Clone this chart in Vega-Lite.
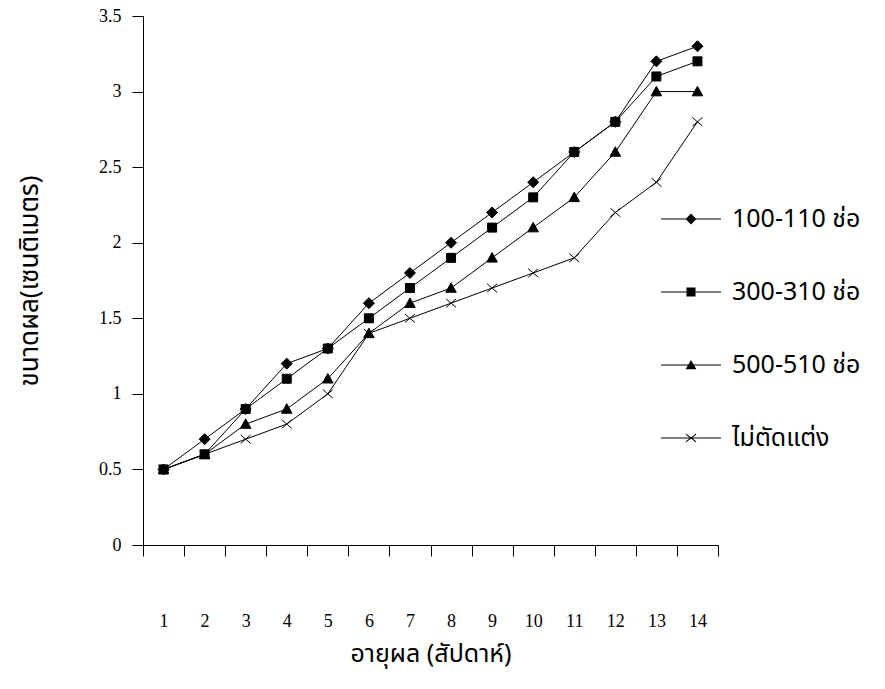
{
  "$schema": "https://vega.github.io/schema/vega-lite/v6.json",
  "width": 575,
  "height": 529,
  "autosize": {"type": "none"},
  "padding": {"left": 143, "top": 16, "right": 167, "bottom": 144},
  "background": "white",
  "config": {"view": {"stroke": null}},
  "data": {
    "values": [
      {"week": 1, "series": "100-110 ช่อ", "value": 0.5},
      {"week": 2, "series": "100-110 ช่อ", "value": 0.7},
      {"week": 3, "series": "100-110 ช่อ", "value": 0.9},
      {"week": 4, "series": "100-110 ช่อ", "value": 1.2},
      {"week": 5, "series": "100-110 ช่อ", "value": 1.3},
      {"week": 6, "series": "100-110 ช่อ", "value": 1.6},
      {"week": 7, "series": "100-110 ช่อ", "value": 1.8},
      {"week": 8, "series": "100-110 ช่อ", "value": 2.0},
      {"week": 9, "series": "100-110 ช่อ", "value": 2.2},
      {"week": 10, "series": "100-110 ช่อ", "value": 2.4},
      {"week": 11, "series": "100-110 ช่อ", "value": 2.6},
      {"week": 12, "series": "100-110 ช่อ", "value": 2.8},
      {"week": 13, "series": "100-110 ช่อ", "value": 3.2},
      {"week": 14, "series": "100-110 ช่อ", "value": 3.3},
      {"week": 1, "series": "300-310 ช่อ", "value": 0.5},
      {"week": 2, "series": "300-310 ช่อ", "value": 0.6},
      {"week": 3, "series": "300-310 ช่อ", "value": 0.9},
      {"week": 4, "series": "300-310 ช่อ", "value": 1.1},
      {"week": 5, "series": "300-310 ช่อ", "value": 1.3},
      {"week": 6, "series": "300-310 ช่อ", "value": 1.5},
      {"week": 7, "series": "300-310 ช่อ", "value": 1.7},
      {"week": 8, "series": "300-310 ช่อ", "value": 1.9},
      {"week": 9, "series": "300-310 ช่อ", "value": 2.1},
      {"week": 10, "series": "300-310 ช่อ", "value": 2.3},
      {"week": 11, "series": "300-310 ช่อ", "value": 2.6},
      {"week": 12, "series": "300-310 ช่อ", "value": 2.8},
      {"week": 13, "series": "300-310 ช่อ", "value": 3.1},
      {"week": 14, "series": "300-310 ช่อ", "value": 3.2},
      {"week": 1, "series": "500-510 ช่อ", "value": 0.5},
      {"week": 2, "series": "500-510 ช่อ", "value": 0.6},
      {"week": 3, "series": "500-510 ช่อ", "value": 0.8},
      {"week": 4, "series": "500-510 ช่อ", "value": 0.9},
      {"week": 5, "series": "500-510 ช่อ", "value": 1.1},
      {"week": 6, "series": "500-510 ช่อ", "value": 1.4},
      {"week": 7, "series": "500-510 ช่อ", "value": 1.6},
      {"week": 8, "series": "500-510 ช่อ", "value": 1.7},
      {"week": 9, "series": "500-510 ช่อ", "value": 1.9},
      {"week": 10, "series": "500-510 ช่อ", "value": 2.1},
      {"week": 11, "series": "500-510 ช่อ", "value": 2.3},
      {"week": 12, "series": "500-510 ช่อ", "value": 2.6},
      {"week": 13, "series": "500-510 ช่อ", "value": 3.0},
      {"week": 14, "series": "500-510 ช่อ", "value": 3.0},
      {"week": 1, "series": "ไม่ตัดแต่ง", "value": 0.5},
      {"week": 2, "series": "ไม่ตัดแต่ง", "value": 0.6},
      {"week": 3, "series": "ไม่ตัดแต่ง", "value": 0.7},
      {"week": 4, "series": "ไม่ตัดแต่ง", "value": 0.8},
      {"week": 5, "series": "ไม่ตัดแต่ง", "value": 1.0},
      {"week": 6, "series": "ไม่ตัดแต่ง", "value": 1.4},
      {"week": 7, "series": "ไม่ตัดแต่ง", "value": 1.5},
      {"week": 8, "series": "ไม่ตัดแต่ง", "value": 1.6},
      {"week": 9, "series": "ไม่ตัดแต่ง", "value": 1.7},
      {"week": 10, "series": "ไม่ตัดแต่ง", "value": 1.8},
      {"week": 11, "series": "ไม่ตัดแต่ง", "value": 1.9},
      {"week": 12, "series": "ไม่ตัดแต่ง", "value": 2.2},
      {"week": 13, "series": "ไม่ตัดแต่ง", "value": 2.4},
      {"week": 14, "series": "ไม่ตัดแต่ง", "value": 2.8}
    ]
  },
  "encoding": {
    "x": {
      "field": "week",
      "type": "ordinal",
      "scale": {"type": "band", "paddingInner": 0, "paddingOuter": 0},
      "axis": {
        "tickBand": "extent",
        "tickSize": 11,
        "tickColor": "black",
        "domainColor": "black",
        "labelAngle": 0,
        "labelPadding": 56,
        "labelFont": "Liberation Serif",
        "labelFontSize": 18,
        "labelColor": "black",
        "grid": false,
        "title": "อายุผล (สัปดาห์)",
        "titleFont": "Noto Sans Thai, Noto Sans, sans-serif",
        "titleFontSize": 25,
        "titleFontWeight": "normal",
        "titleColor": "black",
        "titlePadding": 11
      }
    },
    "y": {
      "field": "value",
      "type": "quantitative",
      "scale": {"domain": [0, 3.5], "nice": false},
      "axis": {
        "values": [0, 0.5, 1, 1.5, 2, 2.5, 3, 3.5],
        "format": "~g",
        "tickSize": 11,
        "tickColor": "black",
        "domainColor": "black",
        "labelPadding": 11,
        "labelFont": "Liberation Serif",
        "labelFontSize": 18,
        "labelColor": "black",
        "grid": false,
        "title": "ขนาดผล(เซนติเมตร)",
        "titleFont": "Noto Sans Thai, Noto Sans, sans-serif",
        "titleFontSize": 26,
        "titleFontWeight": "normal",
        "titleColor": "black",
        "titlePadding": 56
      }
    }
  },
  "layer": [
    {
      "mark": {"type": "line", "color": "black", "strokeWidth": 1},
      "encoding": {"detail": {"field": "series", "type": "nominal"}}
    },
    {
      "mark": {"type": "point", "filled": true, "fill": "black", "stroke": "black", "strokeWidth": 1, "opacity": 1, "size": 100},
      "encoding": {
        "shape": {
          "field": "series",
          "type": "nominal",
          "scale": {
            "domain": ["100-110 ช่อ", "300-310 ช่อ", "500-510 ช่อ", "ไม่ตัดแต่ง"],
            "range": [
              "M-1.1,0L0,-1.1L1.1,0L0,1.1Z",
              "M-0.9,-0.9H0.9V0.9H-0.9Z",
              "M-1.05,0.85L0,-1.05L1.05,0.85Z",
              "M-1,-0.85L1,0.85M-1,0.85L1,-0.85"
            ]
          },
          "legend": null
        }
      }
    },
    {
      "mark": {"type": "point", "filled": true, "fill": "black", "opacity": 0, "size": 3600},
      "encoding": {
        "shape": {
          "field": "series",
          "type": "nominal",
          "scale": {
            "domain": ["100-110 ช่อ", "300-310 ช่อ", "500-510 ช่อ", "ไม่ตัดแต่ง"],
            "range": [
              "M-1,-0.018H1V0.018H-1ZM-0.18,0L0,-0.18L0.18,0L0,0.18Z",
              "M-1,-0.018H1V0.018H-1ZM-0.15,-0.15H0.15V0.15H-0.15Z",
              "M-1,-0.018H1V0.018H-1ZM-0.18,0.14L0,-0.17L0.18,0.14Z",
              "M-1,-0.018H1V0.018H-1ZM-0.17,-0.15L0.17,0.11L0.17,0.15L-0.17,-0.11ZM-0.17,0.11L0.17,-0.15L0.17,-0.11L-0.17,0.15Z"
            ]
          },
          "legend": {
            "orient": "none",
            "legendX": 518,
            "legendY": 173,
            "title": null,
            "padding": 0,
            "symbolSize": 3600,
            "symbolStrokeWidth": 0,
            "symbolFillColor": "black",
            "symbolOpacity": 1,
            "labelFont": "Noto Sans Thai, Noto Sans, sans-serif",
            "labelFontSize": 25,
            "labelColor": "black",
            "labelOffset": 11,
            "labelLimit": 300,
            "rowPadding": 30,
            "encode": {
              "symbols": {
                "update": {
                  "fill": {"value": "black"},
                  "opacity": {"value": 1},
                  "fillOpacity": {"value": 1}
                }
              }
            }
          }
        }
      }
    }
  ],
  "resolve": {"scale": {"shape": "independent"}}
}
